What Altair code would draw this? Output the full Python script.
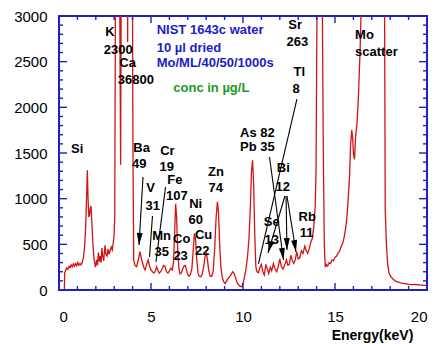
import math
import altair as alt
import pandas as pd

# ---- spectrum (energy keV, counts) ----
energy = [0.29, 0.31, 0.36, 0.42, 0.48, 0.54, 0.60, 0.66, 0.72, 0.78, 0.84, 0.90, 0.96, 1.02, 1.08,
          1.14, 1.20, 1.26, 1.32, 1.38, 1.44, 1.49, 1.54, 1.58, 1.62, 1.66, 1.70, 1.74, 1.78, 1.83,
          1.88, 1.93, 1.98, 2.04, 2.09, 2.14, 2.19, 2.24, 2.29, 2.33, 2.38, 2.43, 2.50, 2.55, 2.61,
          2.67, 2.72, 2.78, 2.84, 2.90, 2.95, 2.99, 3.03, 3.07, 3.15, 3.25, 3.35, 3.42, 3.60, 3.73,
          3.78, 3.95, 4.02, 4.06, 4.13, 4.22, 4.30, 4.40, 4.47, 4.55, 4.62, 4.68, 4.76, 4.85, 4.92,
          5.00, 5.08, 5.16, 5.24, 5.31, 5.38, 5.45, 5.52, 5.60, 5.68, 5.76, 5.84, 5.92, 6.00, 6.08,
          6.16, 6.22, 6.28, 6.34, 6.39, 6.45, 6.52, 6.58, 6.65, 6.72, 6.80, 6.86, 6.93, 7.00, 7.07,
          7.14, 7.22, 7.30, 7.36, 7.42, 7.48, 7.55, 7.62, 7.70, 7.78, 7.86, 7.94, 8.01, 8.07, 8.14,
          8.22, 8.30, 8.38, 8.46, 8.54, 8.61, 8.67, 8.73, 8.80, 8.87, 8.95, 9.03, 9.11, 9.20, 9.28,
          9.36, 9.44, 9.52, 9.60, 9.68, 9.76, 9.85, 9.93, 10.00, 10.08, 10.16, 10.24, 10.32, 10.40, 10.46,
          10.52, 10.58, 10.64, 10.70, 10.76, 10.84, 10.92, 11.00, 11.08, 11.16, 11.24, 11.32, 11.40, 11.48, 11.56,
          11.65, 11.74, 11.83, 11.92, 12.00, 12.08, 12.17, 12.26, 12.36, 12.44, 12.52, 12.60, 12.68, 12.76, 12.84,
          12.92, 13.00, 13.08, 13.18, 13.26, 13.36, 13.44, 13.52, 13.60, 13.68, 13.76, 13.84, 13.92, 13.97, 14.03,
          14.15, 14.30, 14.36, 14.42, 14.47, 14.53, 14.60, 14.68, 14.76, 14.84, 14.92, 15.00, 15.08, 15.16, 15.24,
          15.32, 15.40, 15.48, 15.56, 15.64, 15.72, 15.79, 15.85, 15.91, 15.96, 16.01, 16.06, 16.12, 16.20, 16.28,
          16.36, 16.44, 16.50, 17.00, 17.48, 17.68, 17.73, 17.79, 17.86, 17.94, 18.04, 18.15, 18.30, 18.45, 18.60,
          18.80, 19.00, 19.20, 19.40, 19.60, 19.80, 20.00]
counts = [0, 190, 215, 240, 225, 260, 245, 275, 255, 285, 260, 290, 265, 300, 270,
          290, 275, 300, 350, 450, 650, 950, 1310, 1000, 800, 820, 900, 920, 760, 550,
          400, 300, 250, 330, 270, 410, 310, 370, 300, 460, 370, 320, 490, 390, 370,
          450, 390, 430, 470, 440, 520, 590, 800, 3400, 5000, 5000, 1370, 6000, 40000, 2716,
          6000, 6000, 1500, 330, 270, 255, 320, 420, 350, 290, 240, 220, 280, 330, 260,
          220, 200, 185, 210, 255, 210, 185, 200, 230, 270, 260, 200, 185, 210, 240,
          220, 300, 600, 945, 800, 450, 230, 175, 190, 230, 265, 270, 220, 165, 150,
          170, 230, 450, 620, 560, 350, 190, 150, 145, 170, 250, 370, 400, 330, 210,
          150, 150, 200, 450, 800, 965, 850, 500, 250, 140, 90, 70, 100, 130, 150,
          170, 200, 180, 130, 80, 55, 40, 35, 70, 140, 230, 350, 550, 900, 1300,
          1420, 1150, 600, 250, 200, 190, 250, 280, 200, 165, 280, 230, 180, 250, 210,
          290, 230, 200, 260, 340, 260, 230, 270, 330, 270, 280, 380, 320, 290, 330,
          420, 340, 350, 430, 400, 480, 430, 400, 450, 520, 560, 680, 900, 1300, 3400,
          9000, 3500, 1600, 500, 250, 280, 260, 300, 290, 330, 320, 360, 370, 400, 420,
          470, 500, 560, 650, 780, 1000, 1250, 1600, 1750, 1660, 1480, 1430, 1680, 1830, 2150,
          2600, 3200, 8000, 12000, 20000, 4000, 880, 520, 280, 180, 145, 120, 95, 85, 75,
          70, 62, 58, 60, 55, 52, 50]

# ---- axis ticks ----
x_label_values = [0, 5, 10, 15, 20]
y_label_values = [0, 500, 1000, 1500, 2000, 2500, 3000]
x_minor = list(range(0, 21))
y_minor = list(range(0, 3001, 100))

# ---- element labels (text, keV, counts) ----
label_text = ["K", "2300", "Ca", "36800", "Si", "Ba", "49", "Cr", "19", "Fe", "107", "V", "31",
              "Zn", "74", "Ni", "60", "Cu", "22", "Mn", "35", "Co", "23", "As 82", "Pb 35",
              "Bi", "12", "Se", "13", "Rb", "11", "Sr", "263", "Tl", "8"]
label_x = [2.77, 3.22, 3.73, 4.18, 0.99, 4.49, 4.36, 5.89, 5.85, 6.30, 6.40, 4.98, 5.09,
           8.53, 8.52, 7.43, 7.43, 7.86, 7.78, 5.58, 5.58, 6.67, 6.61, 10.78, 10.78,
           12.19, 12.16, 11.56, 11.56, 13.49, 13.46, 12.83, 12.95, 13.06, 12.88]
label_y = [2821, 2628, 2482, 2299, 1544, 1558, 1376, 1522, 1350, 1204, 1032, 1120, 920,
           1295, 1113, 940, 762, 600, 430, 591, 419, 555, 372, 1722, 1569,
           1332, 1131, 748, 547, 803, 621, 2901, 2712, 2390, 2197]

mo_text = ["Mo", "scatter"]
mo_x = [16.09, 16.09]
mo_y = [2792, 2603]

info_text = ["NIST 1643c water", "10 \u00b5l dried", "Mo/ML/40/50/1000s"]
info_x = [5.31, 5.31, 5.31]
info_y = [2847, 2646, 2482]

conc_text = ["conc in \u00b5g/L"]
conc_x = [6.21]
conc_y = [2208]

# ---- pointer lines (start keV, start counts, end keV, end counts, has head) ----
arr_x1 = [4.565, 5.08, 5.79, 12.93, 11.44, 12.28, 12.34, 12.39]
arr_y1 = [1237, 810, 1128, 2091, 1456, 1029, 1029, 1029]
arr_x2 = [4.348, 4.92, 5.27, 10.84, 12.20, 11.36, 12.39, 12.88]
arr_y2 = [493, 361, 307, 285, 328, 405, 438, 416]
arr_head = [True, False, False, False, True, True, True, True]

W, H = 368, 274
XMAX, YMAX = 20, 3000
FRAME = "#1f1fc6"
FONT = "Liberation Sans"

xs = alt.Scale(domain=[0, XMAX], nice=False, zero=False)
ys = alt.Scale(domain=[0, YMAX], nice=False)

x_axis = alt.Axis(values=x_label_values, ticks=False, domain=False, grid=False, format="d",
                  labelFont=FONT, labelFontSize=15, labelColor="black", labelPadding=19,
                  title="Energy(keV)", titleFont=FONT, titleFontSize=14, titleFontWeight="bold",
                  titleColor="black", titleX=313, titleY=49, titleBaseline="alphabetic",
                  titleAlign="center")
y_axis = alt.Axis(values=y_label_values, ticks=False, domain=False, grid=False, format="d",
                  labelFont=FONT, labelFontSize=15, labelColor="black", labelPadding=12,
                  title="")


def X(field):
    return alt.X(field, scale=xs, axis=x_axis, title="Energy(keV)")


def Y(field):
    return alt.Y(field, scale=ys, axis=y_axis, title="")


spec = pd.DataFrame({"energy": energy, "counts": counts})

line = alt.Chart(spec).mark_line(color="#d41414", strokeWidth=1.3, clip=True).encode(
    x=X("energy:Q"), y=Y("counts:Q"))

# inward ticks
xt = pd.DataFrame({"v": x_minor})
xt["major"] = [v % 5 == 0 for v in x_minor]
yt = pd.DataFrame({"v": y_minor})
yt["major"] = [v % 500 == 0 for v in y_minor]


def xticks(df, length, top):
    base = alt.Chart(df).mark_rule(color=FRAME, strokeWidth=1.4)
    if top:
        return base.encode(x=X("v:Q"), y=alt.value(0), y2=alt.value(length))
    return base.encode(x=X("v:Q"), y=alt.value(H), y2=alt.value(H - length))


def yticks(df, length, right):
    base = alt.Chart(df).mark_rule(color=FRAME, strokeWidth=1.4)
    if right:
        return base.encode(y=Y("v:Q"), x=alt.value(W), x2=alt.value(W - length))
    return base.encode(y=Y("v:Q"), x=alt.value(0), x2=alt.value(length))


xt_minor = xt[~xt["major"]]
xt_major = xt[xt["major"]]
yt_minor = yt[~yt["major"]]
yt_major = yt[yt["major"]]
ticks = [xticks(xt_minor, 4, False), xticks(xt_major, 7, False),
         xticks(xt_minor, 4, True), xticks(xt_major, 7, True),
         yticks(yt_minor, 4, False), yticks(yt_major, 8, False),
         yticks(yt_minor, 4, True), yticks(yt_major, 8, True)]


def text_layer(texts, xv, yv, color, align):
    return alt.Chart(pd.DataFrame({"t": texts, "x": xv, "y": yv})).mark_text(
        font=FONT, fontSize=13, fontWeight="bold", color=color, align=align, baseline="middle"
    ).encode(x=X("x:Q"), y=Y("y:Q"), text="t:N")


labels = text_layer(label_text, label_x, label_y, "black", "center")
mo = text_layer(mo_text, mo_x, mo_y, "black", "left")
info = text_layer(info_text, info_x, info_y, "#1c1cc8", "left")
conc = text_layer(conc_text, conc_x, conc_y, "#1f961f", "left")

arr = pd.DataFrame({"x1": arr_x1, "y1": arr_y1, "x2": arr_x2, "y2": arr_y2, "head": arr_head})
px_per_x = W / XMAX
px_per_y = H / YMAX
angles = []
for a, b, c, d in zip(arr_x1, arr_y1, arr_x2, arr_y2):
    dx = (c - a) * px_per_x
    dy = -(d - b) * px_per_y
    angles.append(math.degrees(math.atan2(-dx, dy)) % 360)
arr["ang"] = angles

pointer_lines = alt.Chart(arr).mark_rule(color="black", strokeWidth=1.1).encode(
    x=X("x1:Q"), y=Y("y1:Q"), x2="x2:Q", y2="y2:Q")

heads = alt.Chart(arr[arr["head"]]).mark_point(
    shape="M-0.5,-2L0.5,-2L0,0Z", filled=True, size=144, color="black", opacity=1, strokeWidth=0
).encode(x=X("x2:Q"), y=Y("y2:Q"), angle=alt.Angle("ang:Q", scale=None))

chart = alt.layer(line, *ticks, pointer_lines, heads, labels, mo, info, conc).properties(
    width=W, height=H,
    autosize=alt.AutoSizeParams(type="none"),
    padding={"left": 59, "top": 16, "right": 12, "bottom": 54},
    background="white",
).configure_view(stroke=FRAME, strokeWidth=2)

chart.save("out.html", embed_options={"renderer": "svg", "actions": False})
